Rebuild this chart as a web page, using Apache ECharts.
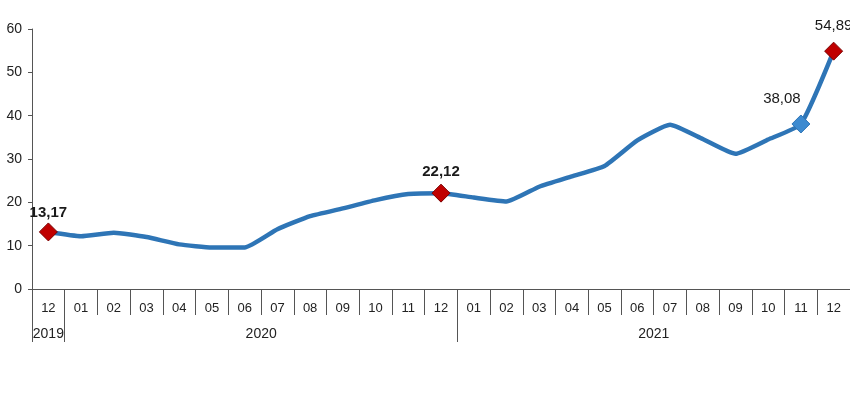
<!DOCTYPE html>
<html>
<head>
<meta charset="utf-8">
<script src="https://cdn.jsdelivr.net/npm/echarts@6/dist/echarts.min.js"></script>
<style>html,body{margin:0;padding:0;background:#fff}#c{width:850px;height:400px}</style>
</head>
<body>
<div id="c"></div>
<script>
var months = ['12','01','02','03','04','05','06','07','08','09','10','11','12','01','02','03','04','05','06','07','08','09','10','11','12'];
var values = [13.17,12.2,13.0,12.0,10.3,9.6,9.6,13.8,16.8,18.6,20.5,21.9,22.12,21.1,20.2,23.6,26.0,28.4,34.3,37.9,34.6,31.2,34.5,38.08,54.89];
var yearLabels = {0:'2019', 6:'2020', 18:'2021'};
var yearBoundaries = [0, 1, 13];
var redMarks = [0, 12, 24];
var blueMarks = [23];
var boldLabels = [0, 12];

// label placement styles (not data)
var labelStyle = {
  0:  {distance: 2, offset: [0, 0]},
  12: {distance: 4, offset: [0, 0]},
  23: {distance: 8, offset: [-19, 0]},
  24: {distance: 8, offset: [0, 0]}
};

function fmt(v){ return v.toFixed(2).replace('.', ','); }
var FONT = 'Liberation Sans, Arial, sans-serif';

var data = values.map(function(v, i){
  var o = {value: v};
  if (redMarks.indexOf(i) >= 0 || blueMarks.indexOf(i) >= 0) {
    var red = redMarks.indexOf(i) >= 0;
    o.symbol = 'diamond';
    o.symbolSize = [18, 18];
    o.itemStyle = red ? {color:'#C00000', borderColor:'#7a0000', borderWidth:1} : {color:'#3C8AD0', borderColor:'#2E75B6', borderWidth:1};
    o.label = {
      show: true,
      position: 'top',
      distance: labelStyle[i].distance,
      offset: labelStyle[i].offset,
      formatter: function(p){ return fmt(p.value); },
      fontFamily: FONT,
      fontSize: 15,
      fontWeight: boldLabels.indexOf(i) >= 0 ? 'bold' : 'normal',
      color: '#1a1a1a'
    };
  }
  return o;
});

var chart = echarts.init(document.getElementById('c'));
chart.setOption({
  animation: false,
  grid: {left: 32, right: -1, top: 29, bottom: 111},
  xAxis: [{
    type: 'category',
    data: months,
    boundaryGap: true,
    axisLine: {lineStyle: {color: '#555', width: 1}},
    axisTick: {show: true, interval: 0, length: 26, lineStyle: {color: '#555'}},
    axisLabel: {interval: 0, margin: 13, fontFamily: FONT, fontSize: 13, color: '#222'}
  }, {
    type: 'category',
    data: months,
    position: 'bottom',
    boundaryGap: true,
    axisLine: {show: false},
    axisTick: {show: true, length: 53, lineStyle: {color: '#555'},
      interval: function(i){ return yearBoundaries.indexOf(i) >= 0; }},
    axisLabel: {
      interval: function(i){ return yearLabels[i] !== undefined; },
      margin: 38,
      formatter: function(v, i){
        if (i === 0) return yearLabels[i];
        return '{s|' + yearLabels[i] + '}';
      },
      rich: {s: {padding: [0, 0, 0, 33], fontFamily: FONT, fontSize: 14, color: '#222'}},
      fontFamily: FONT, fontSize: 14, color: '#222'
    }
  }],
  yAxis: {
    type: 'value',
    min: 0, max: 60, interval: 10,
    axisLine: {show: true, lineStyle: {color: '#555'}},
    axisTick: {show: true, length: 4, lineStyle: {color: '#555'}},
    splitLine: {show: false},
    axisLabel: {margin: 10, fontFamily: FONT, fontSize: 14, color: '#222'}
  },
  series: [{
    type: 'line',
    data: data,
    smooth: 0.15,
    showSymbol: true,
    symbol: 'circle',
    symbolSize: 0,
    lineStyle: {color: '#2E75B6', width: 4.5},
    itemStyle: {color: '#2E75B6'},
    z: 3
  }]
});
</script>
</body>
</html>
